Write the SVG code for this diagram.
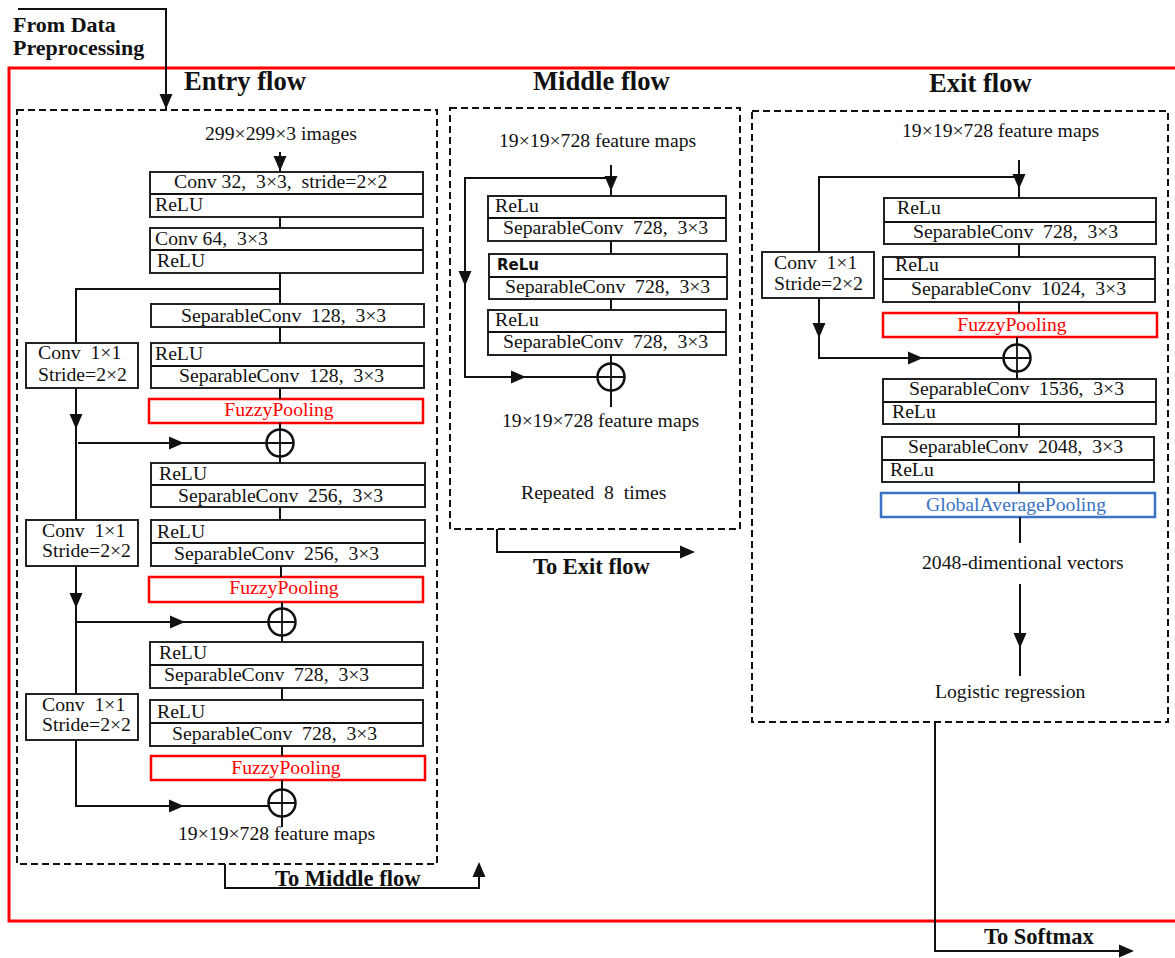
<svg xmlns="http://www.w3.org/2000/svg" xmlns:xlink="http://www.w3.org/1999/xlink" width="1175" height="958" viewBox="0 0 1175 958" xml:space="preserve">
<style>
text{font-family:"Liberation Serif","Times New Roman",serif;font-size:19.7px;fill:#111;white-space:pre}
.h{font-weight:bold;font-size:26.6px}
.b{font-weight:bold;font-size:22.5px}
.c{text-anchor:middle}
.box{fill:#fff;stroke:#222;stroke-width:2}
.red{fill:#fff;stroke:#f00;stroke-width:2.5}
.rt{fill:#f00}
.blue{fill:#fff;stroke:#3a72c4;stroke-width:2.5}
.bt{fill:#3a72c4}
.ln{fill:none;stroke:#111;stroke-width:2}
.dash{fill:none;stroke:#111;stroke-width:2;stroke-dasharray:7 4}
.sum{fill:#fff;stroke:#111;stroke-width:2.5}
.sans{font-family:"DejaVu Sans",sans-serif;font-weight:bold;font-size:15px}
</style>
<defs>
<path id="ah" d="M0,0 L-15,-6.5 L-15,6.5 Z" fill="#111"/>
<g id="plus"><circle class="sum" cx="0" cy="0" r="13.5"/><path d="M-13.5,0 H13.5 M0,-13.5 V13.5" stroke="#111" stroke-width="1.8"/></g>
</defs>

<!-- outer red frame -->
<rect x="9" y="68" width="1180" height="853" fill="none" stroke="#f00" stroke-width="3"/>

<g id="from-data">
<text class="b" x="13" y="32" style="font-size:22px">From Data</text>
<text class="b" x="13" y="55" style="font-size:22px">Preprocessing</text>
</g>

<!-- ENTRY FLOW -->
<text class="h" x="184" y="90">Entry flow</text>
<rect class="dash" x="17" y="110" width="420" height="754"/>
<g id="entry">
<text x="205" y="140">299×299×3 images</text>
<g id="e-conv32"><rect class="box" x="150" y="172" width="273" height="45"/><line class="ln" x1="150" y1="194" x2="423" y2="194"/><text x="174" y="188">Conv 32,  3×3,  stride=2×2</text><text x="155" y="211">ReLU</text></g>
<g id="e-conv64"><rect class="box" x="150" y="228" width="273" height="45"/><line class="ln" x1="150" y1="250" x2="423" y2="250"/><text x="155" y="245">Conv 64,  3×3</text><text x="157" y="267">ReLU</text></g>
<g id="e-sep128a"><rect class="box" x="151" y="304" width="273" height="23"/><text x="181" y="322">SeparableConv  128,  3×3</text></g>
<g id="e-sep128b"><rect class="box" x="151" y="343" width="273" height="45"/><line class="ln" x1="151" y1="366" x2="424" y2="366"/><text x="155" y="360">ReLU</text><text x="179" y="382">SeparableConv  128,  3×3</text></g>
<g id="e-fuzzy1"><rect class="red" x="149" y="399" width="274" height="24"/><text class="rt c" x="279" y="416">FuzzyPooling</text></g>
<g id="e-sum1"><use xlink:href="#plus" x="280" y="443"/></g>
<g id="e-sep256a"><rect class="box" x="151" y="463" width="274" height="44"/><line class="ln" x1="151" y1="485" x2="425" y2="485"/><text x="159" y="480">ReLU</text><text x="178" y="502">SeparableConv  256,  3×3</text></g>
<g id="e-sep256b"><rect class="box" x="151" y="520" width="274" height="46"/><line class="ln" x1="151" y1="543" x2="425" y2="543"/><text x="157" y="538">ReLU</text><text x="174" y="560">SeparableConv  256,  3×3</text></g>
<g id="e-fuzzy2"><rect class="red" x="149" y="577" width="274" height="25"/><text class="rt c" x="284" y="594">FuzzyPooling</text></g>
<g id="e-sum2"><use xlink:href="#plus" x="282" y="622"/></g>
<g id="e-sep728a"><rect class="box" x="150" y="642" width="273" height="46"/><line class="ln" x1="150" y1="665" x2="423" y2="665"/><text x="159" y="659">ReLU</text><text x="164" y="681">SeparableConv  728,  3×3</text></g>
<g id="e-sep728b"><rect class="box" x="150" y="700" width="273" height="46"/><line class="ln" x1="150" y1="723" x2="423" y2="723"/><text x="157" y="718">ReLU</text><text x="172" y="740">SeparableConv  728,  3×3</text></g>
<g id="e-fuzzy3"><rect class="red" x="151" y="756" width="274" height="24"/><text class="rt c" x="286" y="774">FuzzyPooling</text></g>
<g id="e-sum3"><use xlink:href="#plus" x="282" y="803"/></g>
<g id="e-res1"><rect class="box" x="26" y="343" width="112" height="45"/><text x="38" y="359">Conv  1×1</text><text x="38" y="381">Stride=2×2</text></g>
<g id="e-res2"><rect class="box" x="26" y="520" width="112" height="46"/><text x="42" y="537">Conv  1×1</text><text x="42" y="557">Stride=2×2</text></g>
<g id="e-res3"><rect class="box" x="26" y="694" width="112" height="46"/><text x="42" y="711">Conv  1×1</text><text x="42" y="731">Stride=2×2</text></g>
<text x="178" y="840">19×19×728 feature maps</text>
</g>

<!-- MIDDLE FLOW -->
<text class="h" x="533" y="90">Middle flow</text>
<rect class="dash" x="450" y="108" width="290" height="421"/>
<g id="middle">
<text x="499" y="147">19×19×728 feature maps</text>
<g id="m-sep1"><rect class="box" x="488" y="196" width="238" height="45"/><line class="ln" x1="488" y1="218" x2="726" y2="218"/><text x="495" y="212">ReLu</text><text x="503" y="234">SeparableConv  728,  3×3</text></g>
<g id="m-sep2"><rect class="box" x="489" y="254" width="238" height="45"/><line class="ln" x1="489" y1="277" x2="727" y2="277"/><text class="sans" x="497" y="270">ReLu</text><text x="505" y="293">SeparableConv  728,  3×3</text></g>
<g id="m-sep3"><rect class="box" x="488" y="310" width="238" height="45"/><line class="ln" x1="488" y1="332" x2="726" y2="332"/><text x="495" y="326">ReLu</text><text x="503" y="348">SeparableConv  728,  3×3</text></g>
<g id="m-sum"><use xlink:href="#plus" x="611" y="377"/></g>
<text x="502" y="427">19×19×728 feature maps</text>
<text x="521" y="499">Repeated  8  times</text>
</g>

<!-- EXIT FLOW -->
<text class="h" x="929" y="92">Exit flow</text>
<rect class="dash" x="752" y="111" width="416" height="611"/>
<g id="exit">
<text x="902" y="137">19×19×728 feature maps</text>
<g id="x-sep728"><rect class="box" x="884" y="198" width="272" height="46"/><line class="ln" x1="884" y1="222" x2="1156" y2="222"/><text x="897" y="214">ReLu</text><text x="913" y="238">SeparableConv  728,  3×3</text></g>
<g id="x-sep1024"><rect class="box" x="883" y="257" width="272" height="45"/><line class="ln" x1="883" y1="279" x2="1155" y2="279"/><text x="895" y="271">ReLu</text><text x="911" y="295">SeparableConv  1024,  3×3</text></g>
<g id="x-fuzzy"><rect class="red" x="883" y="313" width="274" height="24"/><text class="rt c" x="1012" y="331">FuzzyPooling</text></g>
<g id="x-res"><rect class="box" x="762" y="252" width="112" height="46"/><text x="774" y="269">Conv  1×1</text><text x="774" y="290">Stride=2×2</text></g>
<g id="x-sum"><use xlink:href="#plus" x="1017" y="358"/></g>
<g id="x-sep1536"><rect class="box" x="883" y="379" width="273" height="45"/><line class="ln" x1="883" y1="402" x2="1156" y2="402"/><text x="909" y="395">SeparableConv  1536,  3×3</text><text x="892" y="418">ReLu</text></g>
<g id="x-sep2048"><rect class="box" x="882" y="437" width="272" height="45"/><line class="ln" x1="882" y1="460" x2="1154" y2="460"/><text x="908" y="453">SeparableConv  2048,  3×3</text><text x="890" y="476">ReLu</text></g>
<g id="x-gap"><rect class="blue" x="881" y="493" width="274" height="24"/><text class="bt c" x="1016" y="511">GlobalAveragePooling</text></g>
<text x="922" y="569">2048-dimentional vectors</text>
<text x="935" y="698">Logistic regression</text>
</g>

<!-- CONNECTORS -->
<g id="connectors">
<path class="ln" d="M18,9 H166 V110"/><use xlink:href="#ah" transform="translate(166,109) rotate(90)"/>
<path class="ln" d="M280,152 V172"/><use xlink:href="#ah" transform="translate(280,171) rotate(90)"/>
<path class="ln" d="M280,217 V228 M280,273 V304 M280,327 V343 M280,388 V399 M280,423 V429.5 M280,456.5 V463 M280,507 V520 M281,566 V577 M282,602 V608.5 M282,635.5 V642 M282,688 V700 M282,746 V756 M282,780 V789.5 M282,816.5 V827"/>
<path class="ln" d="M280,289 H76 V343"/>
<path class="ln" d="M76,388 V520"/><use xlink:href="#ah" transform="translate(76,429) rotate(90)"/>
<path class="ln" d="M78,443 H266.5"/><use xlink:href="#ah" transform="translate(184,443)"/>
<path class="ln" d="M76,566 V694"/><use xlink:href="#ah" transform="translate(76,608) rotate(90)"/>
<path class="ln" d="M77,622 H268.5"/><use xlink:href="#ah" transform="translate(185,622)"/>
<path class="ln" d="M76,740 V806 H268.5"/><use xlink:href="#ah" transform="translate(184,806)"/>
<path class="ln" d="M225,864 V888 H479 V866"/><use xlink:href="#ah" transform="translate(479,862) rotate(-90)"/>
<path class="ln" d="M611,165 V196 M611,241 V254 M611,299 V310 M611,355 V363.5 M611,390.5 V407"/><use xlink:href="#ah" transform="translate(611,191) rotate(90)"/>
<path class="ln" d="M611,178 H465 V377 H597.5"/><use xlink:href="#ah" transform="translate(465,286) rotate(90)"/><use xlink:href="#ah" transform="translate(526,377)"/>
<path class="ln" d="M497,529 V552 H690"/><use xlink:href="#ah" transform="translate(695,552)"/>
<path class="ln" d="M1019,160 V198 M1019,244 V257 M1019,302 V313 M1017,337 V344.5 M1017,371.5 V379 M1019,424 V437 M1019,482 V493 M1020,517 V543 M1020,584 V676"/>
<use xlink:href="#ah" transform="translate(1019,189) rotate(90)"/>
<use xlink:href="#ah" transform="translate(1020,648) rotate(90)"/>
<path class="ln" d="M1019,177 H819 V252 M819,298 V358 H1003.5"/><use xlink:href="#ah" transform="translate(819,338) rotate(90)"/><use xlink:href="#ah" transform="translate(923,358)"/>
<path class="ln" d="M935,722 V951 H1128"/><use xlink:href="#ah" transform="translate(1134,951)"/>
</g>
<text class="b" x="275" y="886">To Middle flow</text>
<text class="b" x="533" y="574">To Exit flow</text>
<text class="b" x="984" y="944">To Softmax</text>
</svg>
